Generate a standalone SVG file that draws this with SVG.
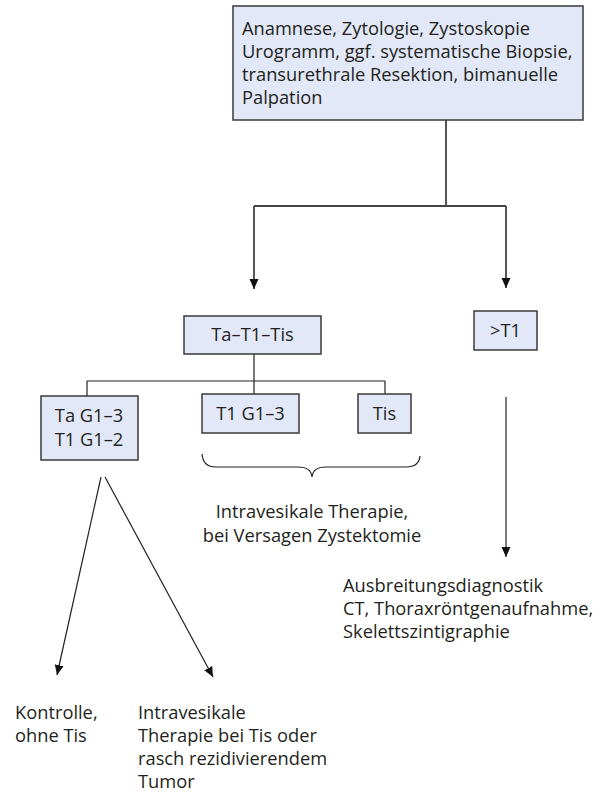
<svg xmlns="http://www.w3.org/2000/svg" width="601" height="792" viewBox="0 0 601 792">
<style>
.box{fill:#e2e8f7;stroke:#3a3a3a;stroke-width:1.5}
.t{font-family:"Open Sans","Liberation Sans",sans-serif;font-size:18.3px;fill:#231f20}
.c{text-anchor:middle}
.ln{fill:none;stroke:#444;stroke-width:1.8}
.thin{fill:none;stroke:#222;stroke-width:1.2}
</style>
<defs>
<marker id="ah" viewBox="0 0 10 10" refX="10" refY="5" markerWidth="10" markerHeight="10" markerUnits="userSpaceOnUse" orient="auto">
<path d="M0,0.5 L10,5 L0,9.5 Z" fill="#111"/>
</marker>
</defs>
<g id="connectors">
<path class="ln" d="M446,120 V206 M254,206 H506"/>
<path class="ln" d="M254,206 V289" marker-end="url(#ah)"/>
<path class="ln" d="M506,206 V288" marker-end="url(#ah)"/>
<path class="thin" d="M254,354 V381 M87,381 H385 M87,381 V396 M254,381 V394 M385,381 V394"/>
<path class="thin" d="M506,397 V557" marker-end="url(#ah)"/>
<path class="thin" d="M101,477 L57,675" marker-end="url(#ah)"/>
<path class="thin" d="M105,477 L213,677" marker-end="url(#ah)"/>
<path class="thin" d="M202,454 Q203,467 216,467 L298,467 Q311,467 312,477 Q313,467 326,467 L406,467 Q419,467 420,456"/>
</g>
<g id="n-top">
<rect class="box" x="233" y="6" width="350" height="114"/>
<text class="t" x="242" y="35">Anamnese, Zytologie, Zystoskopie</text>
<text class="t" x="242" y="58">Urogramm, ggf. systematische Biopsie,</text>
<text class="t" x="242" y="81">transurethrale Resektion, bimanuelle</text>
<text class="t" x="242" y="104">Palpation</text>
</g>
<g id="n-tat1tis">
<rect class="box" x="184" y="316" width="137" height="38"/>
<text class="t c" x="252.5" y="341">Ta–T1–Tis</text>
</g>
<g id="n-gt1">
<rect class="box" x="474" y="311" width="63" height="39"/>
<text class="t c" x="505.5" y="337">&gt;T1</text>
</g>
<g id="n-tag">
<rect class="box" x="41" y="396" width="97" height="64"/>
<text class="t c" x="89" y="422">Ta G1–3</text>
<text class="t c" x="89" y="446">T1 G1–2</text>
</g>
<g id="n-t1g">
<rect class="box" x="202" y="394" width="97" height="39"/>
<text class="t c" x="250.5" y="420">T1 G1–3</text>
</g>
<g id="n-tis">
<rect class="box" x="358" y="394" width="53" height="39"/>
<text class="t c" x="384.5" y="420">Tis</text>
</g>
<g id="n-intra">
<text class="t c" x="312" y="518">Intravesikale Therapie,</text>
<text class="t c" x="312" y="542">bei Versagen Zystektomie</text>
</g>
<g id="n-ausb">
<text class="t" x="343" y="592">Ausbreitungsdiagnostik</text>
<text class="t" x="343" y="615">CT, Thoraxröntgenaufnahme,</text>
<text class="t" x="343" y="638">Skelettszintigraphie</text>
</g>
<g id="n-kontrolle">
<text class="t" x="15" y="719">Kontrolle,</text>
<text class="t" x="15" y="742">ohne Tis</text>
</g>
<g id="n-intra2">
<text class="t" x="138" y="719">Intravesikale</text>
<text class="t" x="138" y="742">Therapie bei Tis oder</text>
<text class="t" x="138" y="765">rasch rezidivierendem</text>
<text class="t" x="138" y="788">Tumor</text>
</g>
</svg>
